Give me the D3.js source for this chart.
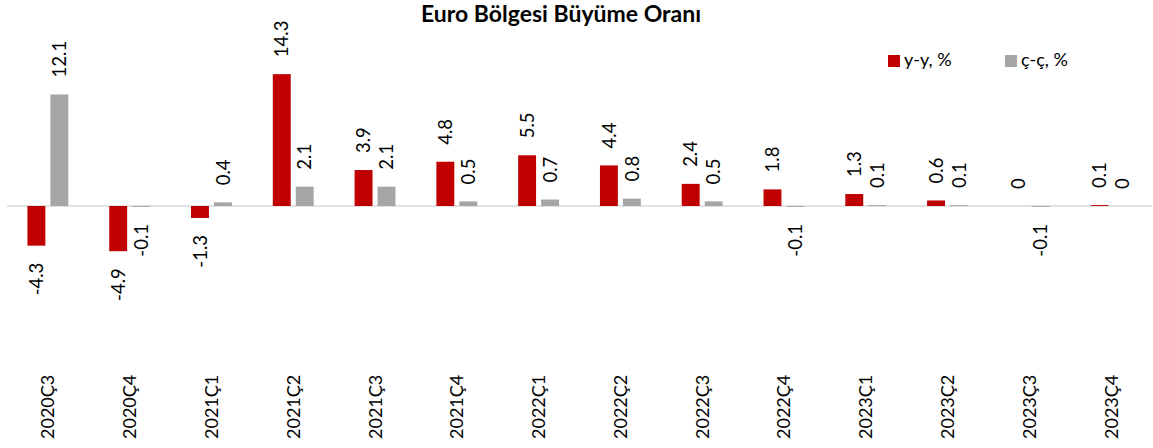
<!DOCTYPE html>
<html><head><meta charset="utf-8">
<script src="https://cdn.jsdelivr.net/npm/d3@7"></script>
<style>
body{margin:0;background:#fff;}
text{font-family:Lato,"Liberation Sans",sans-serif;fill:#000;}
</style></head>
<body><svg id="c" width="1153" height="448"></svg>
<script>
const categories = ["2020Ç3","2020Ç4","2021Ç1","2021Ç2","2021Ç3","2021Ç4","2022Ç1","2022Ç2","2022Ç3","2022Ç4","2023Ç1","2023Ç2","2023Ç3","2023Ç4"];
const seriesNames = ["y-y, %","ç-ç, %"];
const yoy = [-4.3,-4.9,-1.3,14.3,3.9,4.8,5.5,4.4,2.4,1.8,1.3,0.6,0,0.1];
const qoq = [12.1,-0.1,0.4,2.1,2.1,0.5,0.7,0.8,0.5,-0.1,0.1,0.1,-0.1,0];
const colors = ["#c00000","#a6a6a6"];
const title = "Euro Bölgesi Büyüme Oranı";

const svg = d3.select("#c");
const x0 = d3.scaleBand().domain(categories).range([7,1152]).paddingInner(0.5).paddingOuter(0.25);
const x1 = d3.scaleBand().domain([0,1]).range([0,x0.bandwidth()]).paddingInner(0.22).paddingOuter(0);
const y = d3.scaleLinear().domain([-15,15]).range([344.3,67.7]);

const data = [];
categories.forEach((c,i)=>{
  data.push({c, s:0, v:yoy[i]});
  data.push({c, s:1, v:qoq[i]});
});

// zero line
svg.append("line").attr("x1",7).attr("x2",1152).attr("y1",y(0)).attr("y2",y(0))
  .attr("stroke","#d9d9d9").attr("stroke-width",1.5);

svg.append("g").selectAll("rect").data(data).join("rect")
  .attr("x",d=>x0(d.c)+x1(d.s))
  .attr("width",x1.bandwidth())
  .attr("y",d=>Math.min(y(d.v),y(0)))
  .attr("height",d=>Math.abs(y(d.v)-y(0)))
  .attr("fill",d=>colors[d.s]);

// data labels
svg.append("g").selectAll("text").data(data).join("text")
  .attr("transform",d=>{
    const cx = x0(d.c)+x1(d.s)+x1.bandwidth()/2;
    const yy = d.v<0 ? y(d.v)+17 : y(d.v)-17;
    return `translate(${cx},${yy}) rotate(-90)`;
  })
  .attr("text-anchor",d=>d.v<0?"end":"start")
  .attr("dy","0.36em")
  .style("font-size","18.5px")
  .text(d=>String(d.v));

// x axis
const ax = svg.append("g").attr("transform","translate(0,439)")
  .call(d3.axisBottom(x0).tickSize(0));
ax.select(".domain").remove();
ax.selectAll("text")
  .attr("transform","rotate(-90)")
  .attr("x",0).attr("y",0).attr("dy","0.36em")
  .attr("text-anchor","start")
  .style("font-size","18px")
  .style("font-family","Lato,'Liberation Sans',sans-serif")
  .attr("fill","#000");

// title
svg.append("text").attr("x",561).attr("y",22).attr("text-anchor","middle")
  .style("font-size","23px").style("font-weight","bold").text(title);

// legend
const legX = [888,1005];
seriesNames.forEach((n,i)=>{
  svg.append("rect").attr("x",legX[i]).attr("y",55).attr("width",12).attr("height",12).attr("fill",colors[i]);
  svg.append("text").attr("x",legX[i]+16).attr("y",66).style("font-size","18px").text(n);
});
</script></body></html>
